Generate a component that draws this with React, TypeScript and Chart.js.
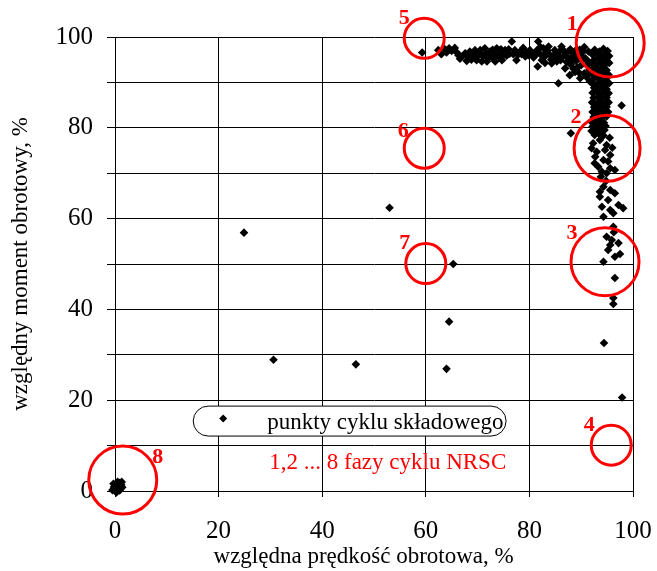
import React, { useEffect, useRef } from 'react';
import { Chart, registerables } from 'chart.js';

Chart.register(...registerables);

const FONT = "'Liberation Serif', 'Times New Roman', serif";
const RED = '#ff0000';

// Axis tick labels (%)
const speedTickLabels = [0, 20, 40, 60, 80, 100];
const torqueTickLabels = [0, 20, 40, 60, 80, 100];

const speedTitle = 'względna prędkość obrotowa, %';
const torqueTitle = 'względny moment obrotowy, %';

// Idle points (phase 8)
const idleSpeed = [-0.5, -0.2, 0.0, 0.2, 0.4, 0.6, 0.8, 1.0, 1.2, 0.3, 0.9, 1.3, 0.5, -0.3, 1.4];
const idleTorque = [0.2, 0.9, 0.0, 1.5, 0.5, 1.1, 1.8, 0.7, 1.4, -0.3, 0.1, 2.0, 2.0, 1.6, 0.8];

// Isolated transient points
const transientSpeed = [24.9, 30.6, 46.5, 53.0, 64.0, 64.5, 65.3, 59.3, 88.0, 85.6, 97.8, 94.4, 97.9, 96.5, 96.2, 96.2];
const transientTorque = [56.9, 28.9, 27.9, 62.4, 26.9, 37.3, 50.0, 96.6, 78.8, 89.8, 84.9, 32.6, 20.6, 46.9, 42.5, 41.2];

// Full-load band, 62-81 % speed
const bandSpeed = [
  62.4, 63.0, 63.6, 64.0, 64.5, 65.6, 66.0, 66.6, 67.6, 67.9, 68.2, 68.5, 69.2, 69.5, 69.8, 70.0, 70.5, 70.8, 71.1, 71.4, 71.8,
  72.1, 72.4, 72.7, 73.0, 73.4, 73.7, 74.0, 74.7, 74.7, 75.0, 75.3, 75.9, 76.2, 76.6, 77.2, 77.5, 78.2, 78.5, 78.8, 79.5, 79.8, 80.1,
  65.0, 66.3, 67.0, 68.8, 69.9, 70.3, 71.6, 72.9, 73.3, 74.3, 74.5, 75.6, 76.0, 76.9, 77.8, 79.1, 79.2, 80.5,
];
const bandTorque = [
  97.1, 96.2, 97.4, 96.6, 97.5, 97.6, 96.6, 95.2, 96.4, 94.7, 95.4, 96.8, 96.0, 97.1, 94.9, 96.2, 97.1, 94.6, 95.7, 97.5, 94.6,
  95.3, 96.8, 96.0, 95.3, 94.6, 97.5, 96.0, 94.9, 96.8, 96.0, 97.1, 96.4, 96.3, 99.0, 97.1, 94.9, 96.8, 96.2, 97.6, 96.4, 96.0, 97.1,
  96.9, 96.0, 95.7, 95.0, 95.6, 96.6, 96.4, 97.2, 96.2, 95.5, 97.3, 95.9, 97.3, 96.2, 96.1, 97.0, 95.7, 96.3,
];

// Corner between full-load band and rated-speed column
const cornerSpeed = [
  81.7, 81.1, 82.7, 81.6, 82.4, 83.7, 84.0, 84.9, 85.3, 86.2, 86.5, 86.9, 87.5, 88.2, 87.8, 88.8, 89.4, 89.8, 90.4, 91.1,
  90.6, 83.2, 82.1, 80.8, 83.0, 84.3, 85.9, 84.5, 87.2, 88.0, 88.6, 89.7, 90.3, 89.2, 90.6, 87.9, 91.4, 91.0,
  81.4, 82.0, 82.9, 83.5, 84.2, 85.0, 85.6, 86.0, 86.6, 87.0, 87.7, 88.3, 88.9, 89.0, 89.9, 90.0, 90.8, 88.5, 89.6, 90.9,
  91.6, 91.5, 91.7,
];
const cornerTorque = [
  99.0, 96.0, 97.5, 93.5, 94.9, 97.9, 96.0, 97.1, 94.6, 97.9, 95.7, 93.1, 96.8, 94.6, 91.6, 92.3, 95.3, 90.9, 96.8, 93.8,
  97.8, 96.4, 97.8, 95.5, 94.3, 94.2, 96.9, 95.3, 94.5, 93.9, 95.9, 97.2, 94.9, 93.2, 92.0, 97.3, 96.8, 91.2,
  97.0, 96.3, 95.6, 97.0, 95.0, 96.3, 95.8, 94.9, 97.0, 96.0, 95.2, 96.6, 97.0, 94.7, 96.0, 93.8, 95.3, 93.0, 92.1, 91.6,
  92.8, 94.5, 90.2,
];

// Rated-speed column, upper dense part
const columnSpeed = [
  92.6, 93.5, 94.3, 95.1,
  92.2, 93.0, 93.8, 94.6, 95.4,
  92.5, 93.3, 94.1, 94.9,
  92.1, 93.0, 93.8, 94.6, 95.4,
  92.4, 93.3, 94.1, 94.9,
  92.0, 92.9, 93.7, 94.5, 95.3,
  92.4, 93.3, 94.1, 94.9,
  92.1, 93.0, 93.8, 94.6, 95.4,
  92.5, 93.3, 94.1, 94.9,
  92.2, 93.0, 93.8, 94.6, 95.3,
  92.4, 93.3, 94.1, 94.9,
  92.1, 93.0, 93.8, 94.6, 95.3,
  92.5, 93.3, 94.1, 94.9,
  92.2, 93.0, 93.8, 94.6, 95.2,
  92.4, 93.3, 94.1, 94.9,
  91.9, 92.8, 93.6, 94.4,
  92.2, 93.0, 93.9, 94.7,
  92.0, 92.9, 93.7, 94.5,
  92.6, 93.4, 94.3,
];
const columnTorque = [
  97.2, 96.8, 97.4, 96.9,
  96.1, 96.3, 95.9, 96.2, 95.8,
  95.0, 95.3, 94.9, 95.2,
  94.1, 93.8, 94.2, 93.9, 94.3,
  93.0, 92.8, 93.1, 92.7,
  91.9, 92.1, 91.8, 92.0, 91.7,
  90.8, 91.0, 90.7, 90.9,
  89.8, 89.6, 89.9, 89.5, 89.8,
  88.8, 88.6, 88.9, 88.5,
  87.7, 87.9, 87.5, 87.8, 87.6,
  86.6, 86.8, 86.5, 86.7,
  85.6, 85.4, 85.7, 85.3, 85.6,
  84.5, 84.7, 84.4, 84.6,
  83.5, 83.3, 83.6, 83.2, 83.5,
  82.4, 82.6, 82.2, 82.5,
  81.4, 81.2, 81.5, 81.1,
  80.3, 80.5, 80.2, 80.4,
  79.3, 79.6, 79.2, 79.5,
  78.4, 78.7, 78.3,
];

// Rated-speed column, middle part (phase 2 area)
const midSpeed = [92.3, 93.6, 94.9, 93.0, 95.6, 94.3, 93.3, 95.6, 94.9, 94.0, 96.5, 92.7, 94.6, 95.5, 92.0, 96.0, 92.6, 95.2, 93.8];
const midTorque = [76.6, 77.3, 76.2, 74.7, 74.0, 72.9, 71.4, 71.1, 70.0, 70.3, 70.7, 73.6, 75.1, 77.8, 75.5, 75.6, 72.2, 72.6, 69.2];

// Rated-speed column, lower sparse part (phase 3 area)
const lowSpeed = [94.3, 95.6, 93.6, 95.2, 96.5, 94.0, 95.6, 98.1, 94.3, 96.2, 97.2, 93.6, 94.8, 96.2, 94.9, 95.9, 97.2, 95.6, 96.5, 97.5, 94.3, 95.2, 96.3];
const lowTorque = [67.0, 66.3, 64.8, 64.1, 65.6, 62.6, 61.9, 62.3, 60.4, 61.2, 63.0, 65.9, 68.3, 58.2, 56.0, 55.3, 54.6, 54.2, 51.6, 52.2, 50.5, 53.1, 57.0];

// NRSC cycle phases (speed %, torque %)
const phaseNames = ['1', '2', '3', '4', '5', '6', '7', '8'];
const phaseSpeed = [95.6, 95.0, 94.6, 95.8, 59.7, 59.7, 60.0, 1.5];
const phaseTorque = [98.7, 75.5, 50.5, 10.1, 99.7, 75.5, 50.1, 2.4];

// Circle radius and label offset (px) for each phase marker
const phaseRadius = [34, 33, 34, 20, 20, 20, 20, 34];
const phaseLabelDx = [-38, -31, -33, -22, -20, -21, -21, 35];
const phaseLabelDy = [-19, -31, -28, -20, -20, -17, -20, -23];

const seriesLabel = 'punkty cyklu składowego';
const phaseCaption = '1,2 ... 8 fazy cyklu NRSC';

// Legend box corners in axis units
const legendBox = { x0: 15.1, x1: 75.5, yTop: 18.7, yBottom: 12.1 };
// Horizontal centre of the speed-axis title, in axis units
const speedTitleAt = 48;

function toPoints(xs: number[], ys: number[]) {
  return xs.map((x, i) => ({ x, y: ys[i] }));
}

const overlayPlugin = {
  id: 'nrscOverlay',
  afterDatasetsDraw(chart: any) {
    const { ctx, chartArea } = chart;
    const xs = chart.scales.x;
    const ys = chart.scales.y;
    ctx.save();

    // speed-axis title
    ctx.font = `23px ${FONT}`;
    ctx.textAlign = 'center';
    ctx.textBaseline = 'alphabetic';
    ctx.fillStyle = '#000000';
    ctx.fillText(speedTitle, xs.getPixelForValue(speedTitleAt), chartArea.bottom + 72);

    // legend: rounded box with marker and label
    const l = xs.getPixelForValue(legendBox.x0);
    const r = xs.getPixelForValue(legendBox.x1);
    const t = ys.getPixelForValue(legendBox.yTop);
    const b = ys.getPixelForValue(legendBox.yBottom);
    const rad = (b - t) / 2;
    ctx.beginPath();
    ctx.moveTo(l + rad, t);
    ctx.lineTo(r - rad, t);
    ctx.arc(r - rad, t + rad, rad, -Math.PI / 2, Math.PI / 2);
    ctx.lineTo(l + rad, b);
    ctx.arc(l + rad, t + rad, rad, Math.PI / 2, (3 * Math.PI) / 2);
    ctx.closePath();
    ctx.fillStyle = '#ffffff';
    ctx.fill();
    ctx.strokeStyle = '#000000';
    ctx.lineWidth = 1;
    ctx.stroke();

    const my = t + rad - 2.5;
    const mx = l + 30;
    const s = 4;
    ctx.beginPath();
    ctx.moveTo(mx, my - s);
    ctx.lineTo(mx + s, my);
    ctx.lineTo(mx, my + s);
    ctx.lineTo(mx - s, my);
    ctx.closePath();
    ctx.fillStyle = '#000000';
    ctx.fill();

    ctx.textAlign = 'left';
    ctx.fillText(seriesLabel, l + 74, t + rad + 7.5);

    ctx.fillStyle = RED;
    ctx.fillText(phaseCaption, l + 76, b + 32.5);

    // phase circles with numbers
    ctx.strokeStyle = RED;
    ctx.lineWidth = 3;
    ctx.font = `bold 22px ${FONT}`;
    ctx.textAlign = 'center';
    ctx.textBaseline = 'middle';
    phaseNames.forEach((name, i) => {
      const cx = xs.getPixelForValue(phaseSpeed[i]);
      const cy = ys.getPixelForValue(phaseTorque[i]);
      ctx.beginPath();
      ctx.arc(cx, cy, phaseRadius[i], 0, Math.PI * 2);
      ctx.stroke();
      ctx.fillStyle = RED;
      ctx.fillText(name, cx + phaseLabelDx[i], cy + phaseLabelDy[i]);
    });

    ctx.restore();
  },
};

export default function App() {
  const canvasRef = useRef<HTMLCanvasElement | null>(null);

  useEffect(() => {
    const canvas = canvasRef.current;
    if (!canvas) return;

    const points = [
      ...toPoints(idleSpeed, idleTorque),
      ...toPoints(transientSpeed, transientTorque),
      ...toPoints(bandSpeed, bandTorque),
      ...toPoints(cornerSpeed, cornerTorque),
      ...toPoints(columnSpeed, columnTorque),
      ...toPoints(midSpeed, midTorque),
      ...toPoints(lowSpeed, lowTorque),
    ];

    const chart = new Chart(canvas, {
      type: 'scatter',
      data: {
        datasets: [
          {
            label: seriesLabel,
            data: points,
            pointStyle: 'rectRot',
            pointRadius: 4.3,
            pointBackgroundColor: '#000000',
            pointBorderWidth: 0,
            clip: false,
          } as any,
        ],
      },
      options: {
        animation: false,
        responsive: false,
        devicePixelRatio: 1,
        events: [],
        layout: { padding: { top: 37, right: 24, left: 0, bottom: 0 } },
        plugins: {
          legend: { display: false },
          tooltip: { enabled: false },
        },
        scales: {
          x: {
            type: 'linear',
            position: 'bottom',
            min: 0,
            max: 100,
            ticks: {
              stepSize: 20,
              autoSkip: false,
              maxRotation: 0,
              padding: 19,
              color: '#000000',
              font: { family: FONT, size: 25 },
              callback: (v: any) => (speedTickLabels.includes(Number(v)) ? String(v) : ''),
            },
            grid: { color: '#000000', lineWidth: 1, tickLength: 6 },
            border: { color: '#000000', width: 1 },
            afterFit: (scale: any) => {
              scale.height = 80;
              scale.paddingLeft = 0;
              scale.paddingRight = 0;
            },
          },
          y: {
            type: 'linear',
            min: 0,
            max: 100,
            ticks: {
              stepSize: 10,
              autoSkip: false,
              padding: 14,
              color: '#000000',
              font: { family: FONT, size: 25 },
              callback: (v: any) => (torqueTickLabels.includes(Number(v)) ? String(v) : ''),
            },
            grid: { color: '#000000', lineWidth: 1, tickLength: 8 },
            border: { color: '#000000', width: 1 },
            title: {
              display: true,
              text: torqueTitle,
              color: '#000000',
              font: { family: FONT, size: 23 },
              padding: { top: 7, bottom: 0 },
            },
            afterFit: (scale: any) => {
              scale.width = 115;
            },
          },
        },
      },
      plugins: [overlayPlugin],
    });

    return () => {
      chart.destroy();
    };
  }, []);

  return (
    <div style={{ position: 'fixed', left: 0, top: 0, width: 657, height: 571, background: '#ffffff' }}>
      <canvas ref={canvasRef} width={657} height={571} style={{ display: 'block' }} />
    </div>
  );
}
